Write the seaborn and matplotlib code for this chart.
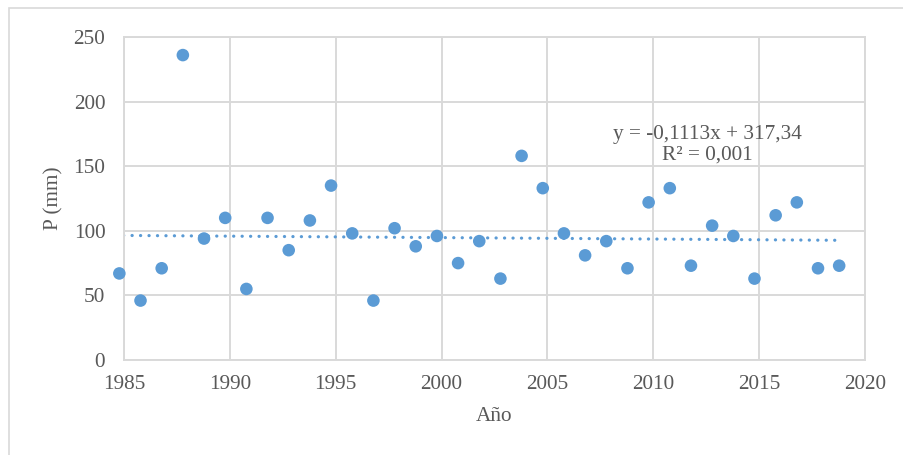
import numpy as np
import pandas as pd
import matplotlib.pyplot as plt
import seaborn as sns
from matplotlib.patches import Rectangle

# Annual precipitation values
years = list(range(1985, 2020))
precip = [67, 46, 71, 236, 94, 110, 55, 110, 85, 108,
          135, 98, 46, 102, 88, 96, 75, 92, 63, 158,
          133, 98, 81, 92, 71, 122, 133, 73, 104, 96,
          63, 112, 122, 71, 73]
slope = -0.1113
intercept = 317.34
eq_text = "y = -0,1113x + 317,34\nR² = 0,001"
x_ticks = [1985, 1990, 1995, 2000, 2005, 2010, 2015, 2020]
y_ticks = [0, 50, 100, 150, 200, 250]

x_shift = -0.22  # points sit slightly left of the year gridlines in the original

df = pd.DataFrame({'Año': np.array(years) + x_shift, 'P': precip})
trend = pd.DataFrame({'Año': [years[0] + x_shift + 0.2, years[-1] + x_shift - 0.1]})
trend['P'] = slope * trend['Año'] + intercept

sns.set_style("whitegrid")
plt.rcParams['font.family'] = ['Liberation Serif', 'DejaVu Serif']

blue = '#5B9BD5'
grey_txt = '#595959'
grid_c = '#D9D9D9'
fs = 15.3

fig = plt.figure(figsize=(9.04, 4.55), dpi=100)
fig.patches.append(Rectangle((9 / 904, -0.1), 1.2, 1 - 8 / 455 + 0.1, transform=fig.transFigure,
                             fill=False, edgecolor='#D9D9D9', linewidth=1.2))
ax = fig.add_axes([124 / 904, 1 - 360 / 455, (865 - 124) / 904, (360 - 37) / 455])

sns.lineplot(data=trend, x='Año', y='P', ax=ax, color=blue, linewidth=2.3,
             linestyle=(0, (0.05, 2.6)), dash_capstyle='round', zorder=2)
sns.scatterplot(data=df, x='Año', y='P', ax=ax, color=blue, s=82, edgecolor='none',
                zorder=3, clip_on=False)

ax.set_xlim(1985, 2020)
ax.set_ylim(0, 250)
ax.set_xticks(x_ticks)
ax.set_yticks(y_ticks)
ax.grid(True, color=grid_c, linewidth=1.4)
for s in ax.spines.values():
    s.set_color(grid_c)
    s.set_linewidth(1.4)
ax.tick_params(axis='both', length=0, labelsize=fs, labelcolor=grey_txt)
ax.tick_params(axis='y', pad=13.5)
ax.tick_params(axis='x', pad=11)
ax.set_xlabel('Año', fontsize=fs, color=grey_txt, labelpad=9)
ax.set_ylabel('P (mm)', fontsize=fs, color=grey_txt, labelpad=7)

ax.text(2012.55, 151.5, eq_text, fontsize=fs, color=grey_txt, ha='center', va='bottom',
        linespacing=1.12, multialignment='center')

fig.savefig('out.png', dpi=100)
